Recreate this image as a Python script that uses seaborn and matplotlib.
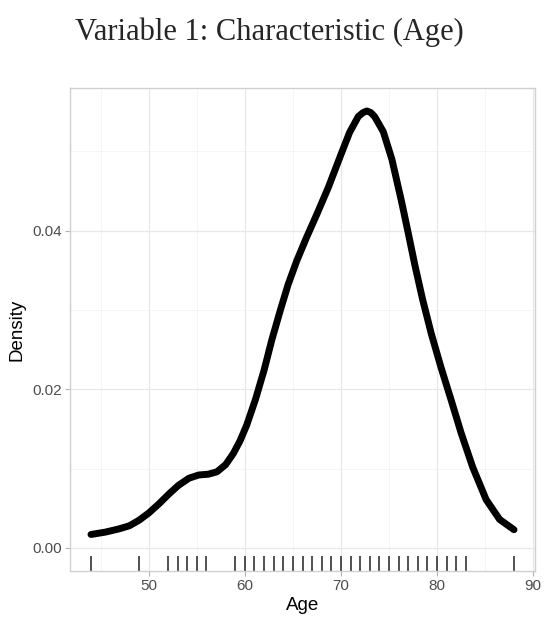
import matplotlib
matplotlib.use("Agg")
import matplotlib.pyplot as plt
from matplotlib.ticker import MultipleLocator
import seaborn as sns

# density curve
curve_age = [44.0, 45.5, 46.9, 48.0, 49.0, 50.0, 51.1, 52.1, 53.1, 54.2,
             55.2, 56.2, 57.1, 58.0, 58.8, 59.5, 60.2, 61.1, 62.0, 62.8,
             63.7, 64.5, 65.4, 66.4, 67.5, 68.7, 69.9, 70.9, 71.8, 72.3,
             72.7, 73.1, 73.5, 74.4, 75.3, 76.3, 77.0, 77.7, 78.5, 79.4,
             80.4, 81.5, 82.5, 83.7, 85.1, 86.5, 88.0]
curve_density = [0.0017, 0.0020, 0.0024, 0.0028, 0.0035, 0.0044, 0.0056, 0.0068, 0.0079, 0.0088,
                 0.0092, 0.0093, 0.0096, 0.0105, 0.0119, 0.0135, 0.0155, 0.0187, 0.0224, 0.0262,
                 0.0300, 0.0332, 0.0362, 0.0391, 0.0421, 0.0455, 0.0493, 0.0524, 0.0544, 0.0549,
                 0.0551, 0.0549, 0.0544, 0.0525, 0.0490, 0.0437, 0.0397, 0.0356, 0.0313, 0.0270,
                 0.0228, 0.0185, 0.0145, 0.0102, 0.0061, 0.0036, 0.0023]

# observed ages shown in the rug
rug_ages = [44, 49, 52, 53, 54, 55, 56] + list(range(59, 84)) + [88]

x_ticks = [50, 60, 70, 80, 90]
y_ticks = [0.00, 0.02, 0.04]
y_tick_labels = ["0.00", "0.02", "0.04"]

sns.set_style("white")
plt.rcParams["font.family"] = ["Liberation Sans", "DejaVu Sans"]

fig = plt.figure(figsize=(5.5, 6.24), dpi=100)
ax = fig.add_axes([0.127, 0.085, 0.846, 0.774])

sns.lineplot(x=curve_age, y=curve_density, sort=False, color="black",
             linewidth=5, solid_capstyle="round", solid_joinstyle="round", ax=ax)
sns.rugplot(x=rug_ages, height=0.03, color="#222222", linewidth=1.1, ax=ax)

ax.set_xlim(41.8, 90.2)
ax.set_ylim(-0.0029, 0.058)
ax.set_xticks(x_ticks)
ax.set_yticks(y_ticks)
ax.set_yticklabels(y_tick_labels)
ax.xaxis.set_minor_locator(MultipleLocator(5))
ax.yaxis.set_minor_locator(MultipleLocator(0.01))

ax.grid(which="major", color="#e8e8e8", linewidth=0.9)
ax.grid(which="minor", color="#f2f2f2", linewidth=0.5)
ax.set_axisbelow(True)

for s in ax.spines.values():
    s.set_color("#d0d0d0")
    s.set_linewidth(1.0)

ax.tick_params(which="major", length=3.5, color="#b3b3b3", width=0.8,
               labelsize=11, labelcolor="#4d4d4d", pad=2,
               bottom=True, left=True)
ax.tick_params(which="minor", length=0)

ax.set_xlabel("Age", fontsize=13.5, color="black", labelpad=3)
ax.set_ylabel("Density", fontsize=13.5, color="black", labelpad=5)

fig.suptitle("Variable 1: Characteristic (Age)", x=0.49, y=0.972,
             fontsize=22, family="Liberation Serif")

fig.savefig("out.png", dpi=100)
